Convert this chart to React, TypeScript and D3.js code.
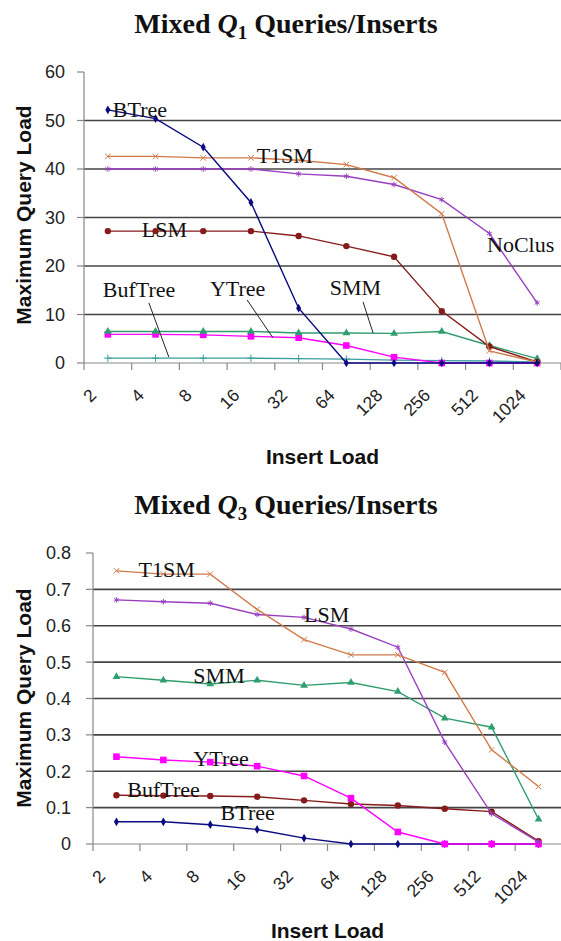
import React, { useEffect, useRef } from 'react';
import * as d3 from 'd3';

// x categories (insert load)
const insertLoads = ['2', '4', '8', '16', '32', '64', '128', '256', '512', '1024'];

// Mixed Q1 queries/inserts
const q1BTree = [52.2, 50.4, 44.5, 33.1, 11.3, 0, 0, 0, 0, 0];
const q1T1SM = [42.6, 42.6, 42.3, 42.3, 41.8, 40.9, 38.2, 30.8, 2.5, 0.2];
const q1NoClus = [40.0, 40.0, 40.0, 40.0, 39.0, 38.5, 36.8, 33.7, 26.7, 12.4];
const q1LSM = [27.2, 27.2, 27.2, 27.2, 26.2, 24.1, 21.9, 10.7, 3.4, 0.2];
const q1SMM = [6.5, 6.5, 6.5, 6.5, 6.2, 6.2, 6.1, 6.5, 3.6, 0.9];
const q1YTree = [5.9, 5.9, 5.8, 5.5, 5.2, 3.6, 1.2, 0, 0, 0];
const q1BufTree = [1.0, 1.0, 1.0, 1.0, 0.9, 0.8, 0.6, 0.5, 0.4, 0.2];
const q1Ticks = [0, 10, 20, 30, 40, 50, 60];

// Mixed Q3 queries/inserts
const q3T1SM = [0.751, 0.742, 0.742, 0.645, 0.562, 0.52, 0.52, 0.472, 0.259, 0.158];
const q3LSM = [0.671, 0.666, 0.662, 0.631, 0.623, 0.591, 0.541, 0.28, 0.083, 0.006];
const q3SMM = [0.46, 0.45, 0.44, 0.45, 0.436, 0.444, 0.419, 0.346, 0.321, 0.068];
const q3YTree = [0.24, 0.231, 0.225, 0.214, 0.187, 0.126, 0.033, 0, 0, 0];
const q3BufTree = [0.134, 0.133, 0.132, 0.13, 0.12, 0.11, 0.106, 0.097, 0.089, 0.008];
const q3BTree = [0.061, 0.061, 0.053, 0.04, 0.016, 0, 0, 0, 0, 0];
const q3Ticks = [0, 0.1, 0.2, 0.3, 0.4, 0.5, 0.6, 0.7, 0.8];

const NAVY = '#0a0a80';
const DARKRED = '#861b1b';
const MAGENTA = '#ff00ff';
const GREEN = '#2f9e6e';
const TEAL = '#3a9ea0';
const PURPLE = '#9a3fc0';
const ORANGE = '#d07a4a';

type Series = { values: number[]; color: string; marker: string };
type Label = { text: string; at: [number, number] };
type Leader = { from: [number, number]; to: [number, number] };

function drawMarker(g: any, marker: string, color: string, cx: number, cy: number) {
  if (marker === 'circle') {
    g.append('circle').attr('cx', cx).attr('cy', cy).attr('r', 3.2).attr('fill', color);
  } else if (marker === 'square') {
    g.append('rect').attr('x', cx - 3.3).attr('y', cy - 3.3).attr('width', 6.6).attr('height', 6.6).attr('fill', color);
  } else if (marker === 'diamond') {
    g.append('path').attr('d', d3.symbol(d3.symbolDiamond, 22)()).attr('transform', `translate(${cx},${cy})`).attr('fill', color);
  } else if (marker === 'triangle') {
    g.append('path').attr('d', d3.symbol(d3.symbolTriangle, 26)()).attr('transform', `translate(${cx},${cy})`).attr('fill', color);
  } else if (marker === 'times') {
    g.append('path').attr('d', d3.symbol(d3.symbolTimes, 22)()).attr('transform', `translate(${cx},${cy})`)
      .attr('fill', 'none').attr('stroke', color).attr('stroke-width', 1);
  } else if (marker === 'asterisk') {
    g.append('path').attr('d', d3.symbol(d3.symbolAsterisk, 22)()).attr('transform', `translate(${cx},${cy})`)
      .attr('fill', 'none').attr('stroke', color).attr('stroke-width', 1);
  } else if (marker === 'plus') {
    g.append('path').attr('d', d3.symbol(d3.symbolPlus, 20)()).attr('transform', `translate(${cx},${cy})`)
      .attr('fill', 'none').attr('stroke', color).attr('stroke-width', 1);
  }
}

function drawPanel(svg: any, cfg: any) {
  const { left, right, top, bottom, yMax, ticks, fmt, series, labels, leaders, titleY, sub, yTitleY, xTitleY, tickRight } = cfg;
  const g = svg.append('g');

  const x = d3.scaleBand().domain(insertLoads).range([left, right]);
  const bw = x.bandwidth();
  const xi = d3.scaleLinear()
    .domain([0, insertLoads.length - 1])
    .range([(x(insertLoads[0]) as number) + bw / 2, (x(insertLoads[insertLoads.length - 1]) as number) + bw / 2]);
  const y = d3.scaleLinear().domain([0, yMax]).range([bottom, top]);

  // title
  const title = g.append('text')
    .attr('x', 286).attr('y', titleY)
    .attr('text-anchor', 'middle')
    .attr('font-family', '"Liberation Serif", "Times New Roman", serif')
    .attr('font-weight', 'bold').attr('font-size', 28).attr('fill', '#111');
  title.append('tspan').text('Mixed ');
  title.append('tspan').attr('font-style', 'italic').text('Q');
  title.append('tspan').attr('font-size', 19).attr('dy', 6).text(sub);
  title.append('tspan').attr('dy', -6).text(' Queries/Inserts');

  // gridlines
  g.append('g').selectAll('line')
    .data(ticks.filter((t: number) => t > 0 && t < yMax))
    .join('line')
    .attr('x1', left).attr('x2', right)
    .attr('y1', (d: number) => y(d)).attr('y2', (d: number) => y(d))
    .attr('stroke', '#444').attr('stroke-width', 1.7);

  // y axis
  g.append('line').attr('x1', left).attr('x2', left).attr('y1', y(yMax)).attr('y2', y(0))
    .attr('stroke', '#888').attr('stroke-width', 1.2);
  g.append('g').selectAll('line').data(ticks).join('line')
    .attr('x1', left - 7).attr('x2', left)
    .attr('y1', (d: number) => y(d)).attr('y2', (d: number) => y(d))
    .attr('stroke', '#888').attr('stroke-width', 1.2);
  g.append('g').selectAll('text').data(ticks).join('text')
    .attr('x', tickRight).attr('y', (d: number) => y(d)).attr('dy', '0.36em')
    .attr('text-anchor', 'end')
    .attr('font-family', '"Liberation Sans", Arial, sans-serif')
    .attr('font-size', 18).attr('fill', '#222')
    .text((d: number) => fmt(d));

  // x axis
  g.append('line').attr('x1', left).attr('x2', right).attr('y1', y(0)).attr('y2', y(0))
    .attr('stroke', '#888').attr('stroke-width', 1.2);
  const bounds = insertLoads.map((c) => x(c) as number).concat([right]);
  g.append('g').selectAll('line').data(bounds).join('line')
    .attr('x1', (d: number) => d).attr('x2', (d: number) => d)
    .attr('y1', y(0)).attr('y2', y(0) + 7)
    .attr('stroke', '#888').attr('stroke-width', 1.2);
  g.append('g').selectAll('text').data(insertLoads).join('text')
    .attr('transform', (d: string) => `translate(${(x(d) as number) + 9},${y(0) + 29}) rotate(-45)`)
    .attr('dy', '0.36em')
    .attr('text-anchor', 'end')
    .attr('font-family', '"Liberation Sans", Arial, sans-serif')
    .attr('font-size', 17.5).attr('fill', '#222')
    .text((d: string) => d);

  // axis titles
  g.append('text')
    .attr('transform', `translate(31,${yTitleY}) rotate(-90)`)
    .attr('text-anchor', 'middle')
    .attr('font-family', '"Liberation Sans", Arial, sans-serif')
    .attr('font-weight', 'bold').attr('font-size', 21).attr('fill', '#111')
    .text('Maximum Query Load');
  g.append('text')
    .attr('x', (left + right) / 2).attr('y', xTitleY)
    .attr('text-anchor', 'middle')
    .attr('font-family', '"Liberation Sans", Arial, sans-serif')
    .attr('font-weight', 'bold').attr('font-size', 21).attr('fill', '#111')
    .text('Insert Load');

  // series
  const line = d3.line<number>().x((_, i) => xi(i)).y((d) => y(d));
  series.forEach((s: Series) => {
    g.append('path').attr('d', line(s.values)).attr('fill', 'none')
      .attr('stroke', s.color).attr('stroke-width', 1.4);
    const mg = g.append('g');
    s.values.forEach((v, i) => drawMarker(mg, s.marker, s.color, xi(i), y(v)));
  });

  // leader lines
  (leaders || []).forEach((l: Leader) => {
    g.append('line')
      .attr('x1', xi(l.from[0])).attr('y1', y(l.from[1]))
      .attr('x2', xi(l.to[0])).attr('y2', y(l.to[1]))
      .attr('stroke', '#222').attr('stroke-width', 1);
  });

  // series labels
  labels.forEach((l: Label) => {
    g.append('text')
      .attr('x', xi(l.at[0])).attr('y', y(l.at[1]))
      .attr('font-family', '"Liberation Serif", "Times New Roman", serif')
      .attr('font-size', 22).attr('fill', '#111')
      .text(l.text);
  });
}

export default function App() {
  const svgRef = useRef<SVGSVGElement>(null);

  useEffect(() => {
    if (!svgRef.current) return;
    const svg = d3.select(svgRef.current);
    svg.selectAll('*').remove();

    drawPanel(svg, {
      left: 84, right: 561, top: 72, bottom: 363,
      yMax: 60, ticks: q1Ticks, fmt: d3.format('d'), tickRight: 65,
      titleY: 33, sub: '1', yTitleY: 215, xTitleY: 464,
      series: [
        { values: q1BufTree, color: TEAL, marker: 'plus' },
        { values: q1YTree, color: MAGENTA, marker: 'square' },
        { values: q1SMM, color: GREEN, marker: 'triangle' },
        { values: q1LSM, color: DARKRED, marker: 'circle' },
        { values: q1NoClus, color: PURPLE, marker: 'asterisk' },
        { values: q1T1SM, color: ORANGE, marker: 'times' },
        { values: q1BTree, color: NAVY, marker: 'diamond' },
      ],
      labels: [
        { text: 'BTree', at: [0.105, 50.7] },
        { text: 'T1SM', at: [3.12, 41.2] },
        { text: 'LSM', at: [0.71, 26.0] },
        { text: 'NoClus', at: [7.95, 22.9] },
        { text: 'BufTree', at: [-0.105, 13.6] },
        { text: 'YTree', at: [2.14, 13.8] },
        { text: 'SMM', at: [4.65, 14.0] },
      ],
      leaders: [
        { from: [0.86, 12.4], to: [1.28, 1.2] },
        { from: [2.92, 13.0], to: [3.46, 5.2] },
        { from: [5.35, 12.6], to: [5.56, 6.2] },
      ],
    });

    drawPanel(svg, {
      left: 93, right: 562, top: 553, bottom: 844,
      yMax: 0.8, ticks: q3Ticks, fmt: (d: number) => (d === 0 ? '0' : d3.format('.1f')(d)), tickRight: 71,
      titleY: 514, sub: '3', yTitleY: 698, xTitleY: 938,
      series: [
        { values: q3BTree, color: NAVY, marker: 'diamond' },
        { values: q3BufTree, color: DARKRED, marker: 'circle' },
        { values: q3YTree, color: MAGENTA, marker: 'square' },
        { values: q3SMM, color: GREEN, marker: 'triangle' },
        { values: q3LSM, color: PURPLE, marker: 'asterisk' },
        { values: q3T1SM, color: ORANGE, marker: 'times' },
      ],
      labels: [
        { text: 'T1SM', at: [0.47, 0.735] },
        { text: 'LSM', at: [4.0, 0.611] },
        { text: 'SMM', at: [1.64, 0.443] },
        { text: 'YTree', at: [1.64, 0.215] },
        { text: 'BufTree', at: [0.23, 0.129] },
        { text: 'BTree', at: [2.22, 0.066] },
      ],
      leaders: [],
    });
  }, []);

  return (
    <svg
      ref={svgRef}
      width={561}
      height={941}
      style={{ position: 'absolute', left: 0, top: 0, background: '#fff', display: 'block' }}
    />
  );
}
